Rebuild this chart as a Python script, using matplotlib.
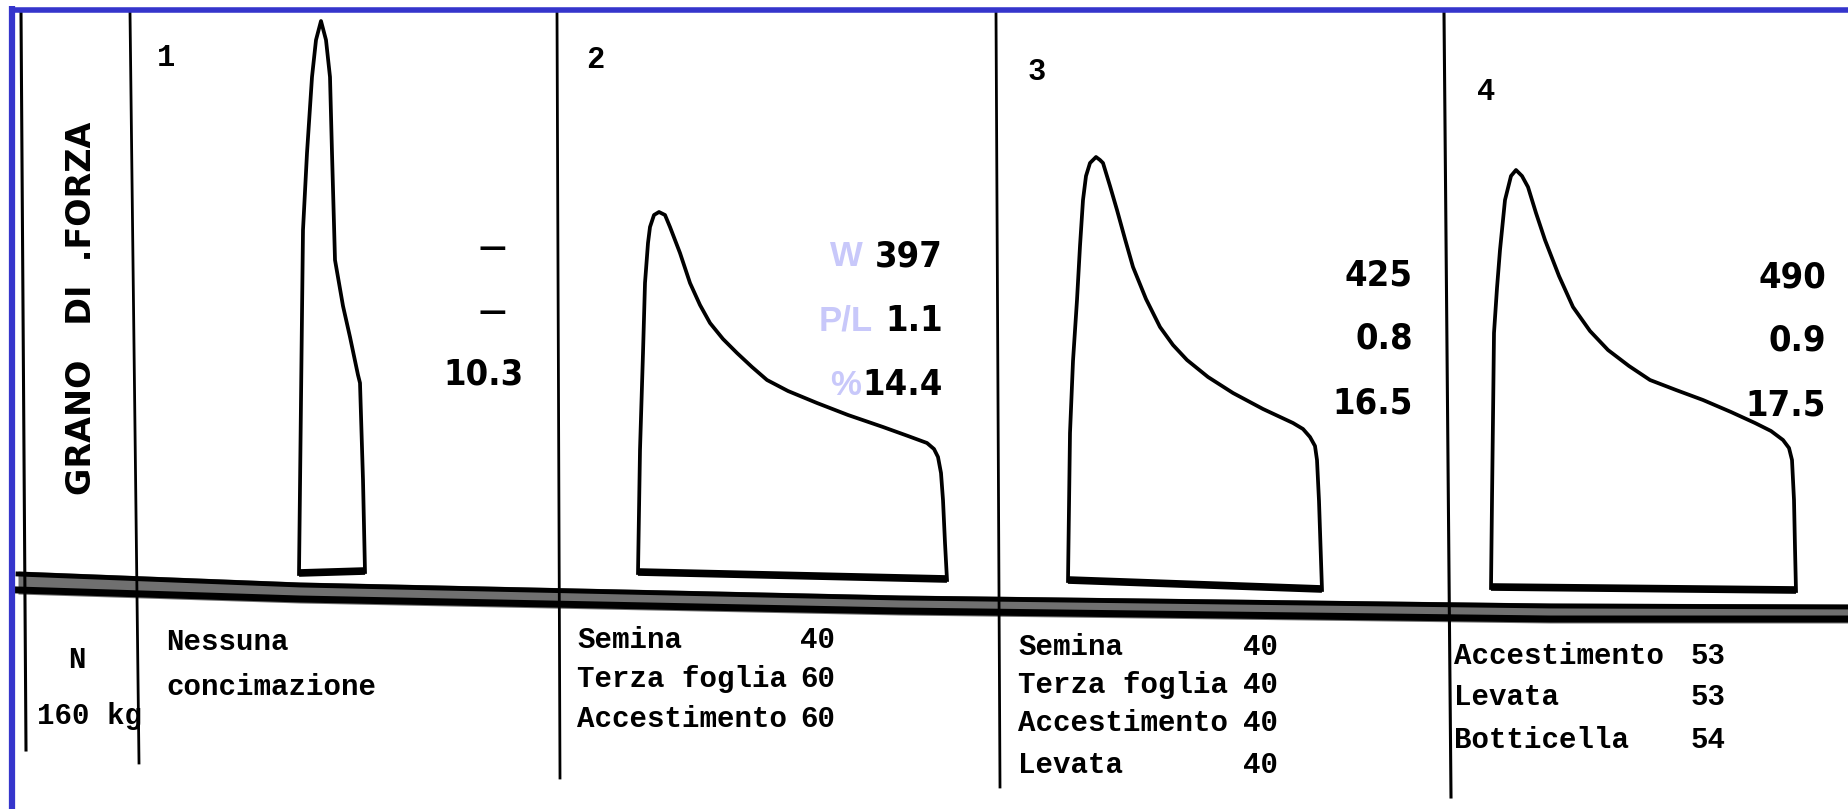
import matplotlib
matplotlib.use('Agg')
import matplotlib.pyplot as plt
from matplotlib import font_manager as fm
from matplotlib.font_manager import FontProperties

# alveogram results per plot
panels = ['1', '2', '3', '4']
w_vals = [None, 397, 425, 490]
pl_vals = [None, 1.1, 0.8, 0.9]
prot_vals = [10.3, 14.4, 16.5, 17.5]

# nitrogen schedule (160 kg N)
stages = [['Nessuna', 'concimazione'],
          ['Semina', 'Terza foglia', 'Accestimento'],
          ['Semina', 'Terza foglia', 'Accestimento', 'Levata'],
          ['Accestimento', 'Levata', 'Botticella']]
doses = [[], [40, 60, 60], [40, 40, 40, 40], [53, 53, 54]]

# alveogram outlines: l = along the base, p = height above base
alv1_l = [0, 3, 4, 8, 13, 17, 22, 27, 31, 33, 36, 44, 51, 59, 61, 64, 66]
alv1_p = [0, 260, 344, 421, 497, 534, 553, 534, 497, 421, 314, 268, 237, 199, 191, 94, 2]
alv2_l = [0, 2, 5, 7, 10, 12, 16, 21, 27, 32, 42, 52, 62, 72, 85, 99, 114, 129, 150,
          179, 210, 245, 270, 289, 296, 300, 303, 305, 307, 309]
alv2_p = [0, 123, 220, 290, 330, 346, 358, 361, 358, 346, 320, 290, 268, 250, 234, 220, 206, 193, 182,
          170, 158, 146, 137, 130, 124, 116, 100, 73, 30, -7]
alv3_l = [0, 2, 5, 9, 12, 15, 18, 22, 28, 32, 35, 42, 49, 57, 65, 78, 92, 105, 119, 140,
          165, 195, 225, 235, 242, 247, 249, 251, 254]
alv3_p = [0, 148, 220, 281, 335, 381, 405, 418, 424, 421, 418, 395, 371, 342, 314, 282, 254, 236, 221, 204,
          188, 172, 158, 152, 144, 135, 121, 80, -9]
alv4_l = [0, 1, 2, 3, 6, 9, 14, 20, 25, 31, 37, 45, 54, 68, 82, 99, 117, 138, 159, 185,
          212, 240, 264, 280, 292, 298, 301, 303, 304, 305]
alv4_p = [0, 88, 170, 255, 300, 338, 388, 412, 418, 412, 401, 375, 348, 312, 281, 257, 238, 222, 208, 198,
          188, 176, 165, 157, 148, 140, 128, 88, 40, -3]
curves = [(alv1_l, alv1_p), (alv2_l, alv2_p), (alv3_l, alv3_p), (alv4_l, alv4_p)]


def pick_narrow():
    for want in ('Liberation Sans Narrow', 'DejaVu Sans'):
        for f in fm.fontManager.ttflist:
            w = f.weight if isinstance(f.weight, int) else fm.weight_dict.get(f.weight, 400)
            if f.name == want and w >= 700 and f.style == 'normal' and 'condensed' in str(f.stretch):
                return f.fname
    return None


narrow_file = pick_narrow()
if narrow_file:
    num_font = FontProperties(fname=narrow_file, size=26)
else:
    num_font = FontProperties(family='DejaVu Sans', weight='bold', size=22)
mono = FontProperties(family='Liberation Mono', weight='bold', size=21)
big_mono = FontProperties(family='Liberation Mono', weight='bold', size=22)
label_font = FontProperties(family='Liberation Sans', weight='bold', size=25)

BLUE = '#3535cc'
LAVENDER = '#c8c8fa'

fig = plt.figure(figsize=(18.49, 8.09), dpi=100)
ax = fig.add_axes([0, 0, 1, 1])
ax.set_xlim(0, 1849)
ax.set_ylim(809, 0)
ax.axis('off')

# frame: vertical rules and the thick double rule
ax.plot([21, 26], [12, 750], color='k', lw=2.2)
ax.plot([130, 139], [12, 763], color='k', lw=2.0)
ax.plot([557, 560], [12, 778], color='k', lw=2.0)
ax.plot([996, 1000], [12, 787], color='k', lw=2.0)
ax.plot([1444, 1451], [12, 797], color='k', lw=2.2)

band_x = [18, 300, 900, 1550, 1849]
band_top = [571, 582, 595, 603, 604]
band_bot = [594, 603, 615, 623, 623]
ax.fill_between(band_x, band_top, band_bot, color='#707070', lw=0)
ax.plot(band_x, [t + 3 for t in band_top], color='k', lw=3.5)
ax.plot(band_x, [b - 4 for b in band_bot], color='k', lw=5)

# blue border (left and top)
ax.plot([12, 12], [6, 809], color=BLUE, lw=4.5, solid_capstyle='butt')
ax.plot([9, 1849], [9.5, 9.5], color=BLUE, lw=4, solid_capstyle='butt')

ax.text(82, 308, 'GRANO   DI  .FORZA', rotation=90, ha='center', va='center',
        family='DejaVu Sans', weight='bold', fontsize=24)
ax.text(77, 668, 'N', fontproperties=mono, ha='center', va='baseline')
ax.text(37, 724, '160 kg', fontproperties=mono, ha='left', va='baseline')

# ---- panels
origins = [(299, 574), (638, 573), (1068, 581), (1491, 588)]
num_pos = [(166, 66), (595, 68), (1037, 80), (1486, 100)]
val_right = [524, 943, 1413, 1826]
val_rows = [[248, 312, 374], [256, 321, 385], [275, 338, 403], [278, 340, 405]]
txt_left = [166, 577, 1018, 1454]
txt_base = [[650, 695], [648, 687, 727], [655, 693, 731, 773], [664, 705, 748]]
dose_right = [None, 835, 1278, 1726]

for i in range(4):
    x0, y0 = origins[i]
    l, p = curves[i]
    xs = [x0 + v for v in l]
    ys = [y0 - v for v in p]
    ax.plot(xs, ys, color='k', lw=2.7, solid_joinstyle='round')
    ax.plot([xs[0], xs[-1]], [ys[0] - 1, ys[-1] - 1], color='k', lw=5.5, solid_capstyle='butt')

    nx, ny = num_pos[i]
    ax.text(nx, ny, panels[i], fontproperties=big_mono, ha='center', va='baseline')

    vals = [w_vals[i], pl_vals[i], prot_vals[i]]
    for v, yy in zip(vals, val_rows[i]):
        if v is None:
            ax.text(val_right[i] - 32, yy, '—', ha='center', va='center',
                    family='DejaVu Sans', weight='bold', fontsize=20)
        else:
            ax.text(val_right[i], yy, str(v), fontproperties=num_font, ha='right', va='center')

    for j, s in enumerate(stages[i]):
        ax.text(txt_left[i], txt_base[i][j], s, fontproperties=mono, ha='left', va='baseline')
    for j, d in enumerate(doses[i]):
        ax.text(dose_right[i], txt_base[i][j], str(d), fontproperties=mono, ha='right', va='baseline')

# light labels for the second panel's values
for s, yy in zip(['W', 'P/L', '%'], val_rows[1]):
    ax.text(846, yy, s, fontproperties=label_font, color=LAVENDER, ha='center', va='center')

fig.savefig('out.png', dpi=100)
